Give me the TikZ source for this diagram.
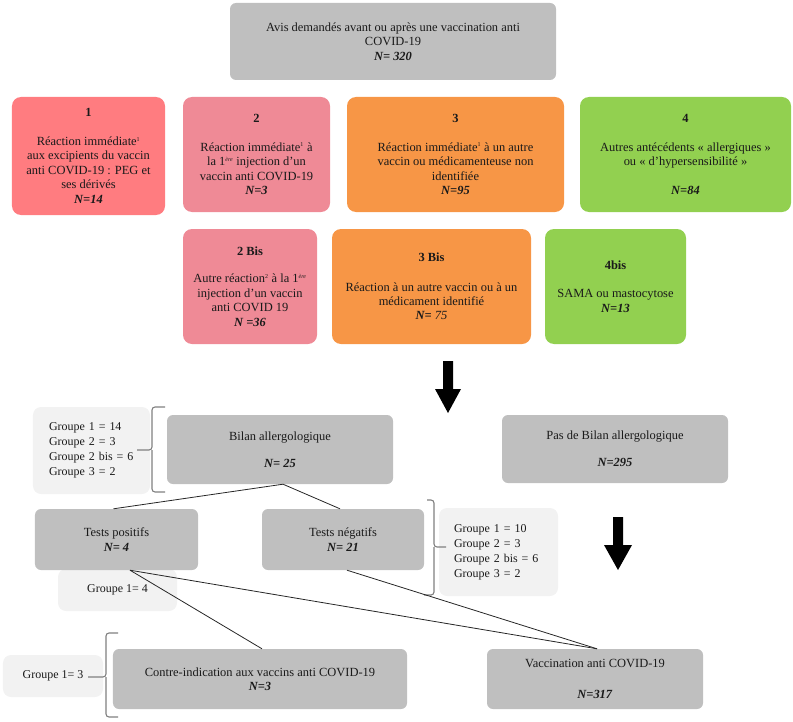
\documentclass[tikz,border=0pt]{standalone}
\usepackage{fontspec}
\setmainfont{Liberation Serif}
\definecolor{cred}{HTML}{FF7C80}
\definecolor{cpink}{HTML}{EF8A96}
\definecolor{corange}{HTML}{F79646}
\definecolor{cgreen}{HTML}{92D050}
\definecolor{cgray}{HTML}{BFBFBF}
\definecolor{clight}{HTML}{F2F2F2}
\definecolor{cbrace}{HTML}{7F7F7F}
\definecolor{ctext}{HTML}{1A1A1A}
\newcommand{\supx}[1]{\textsuperscript{\fontsize{6}{6}\selectfont #1}}
\newcommand{\Nb}[1]{\textbf{\textit{#1}}}
\begin{document}
\begin{tikzpicture}[x=1bp,y=-1bp,
  box/.style={rounded corners=9bp, inner sep=2bp, align=center, text=ctext,
    font=\fontsize{12.5}{14.5}\selectfont},
  gbox/.style={box, rounded corners=6bp, fill=cgray},
  lbox/.style={box, rounded corners=8bp, fill=clight, font=\fontsize{12}{15}\selectfont},
  bracepath/.style={draw=cbrace, line width=1.1bp, rounded corners=3bp},
  conn/.style={draw=black!85, line width=0.8bp},
  bigarrow/.style={fill=black}
]
\useasboundingbox (0,0) rectangle (793,722);

% top
\node[gbox, minimum width=326bp, minimum height=77bp] (top) at (393,41.5)
  {Avis demandés avant ou après une vaccination anti\\COVID-19\\\Nb{N= 320}};

% row 1
\node[box, fill=cred, minimum width=153bp, minimum height=118bp] (b1) at (88.5,156)
  {\textbf{1}\\[14bp]Réaction immédiate\supx{1}\\aux excipients du vaccin\\anti COVID-19 : PEG et\\ses dérivés\\\Nb{N=14}};
\node[box, fill=cpink, minimum width=147bp, minimum height=115bp] (b2) at (256.5,154.5)
  {\textbf{2}\\[14bp]Réaction immédiate\supx{1} à\\la 1\supx{\textit{ère}} injection d’un\\vaccin anti COVID-19\\\Nb{N=3}};
\node[box, fill=corange, minimum width=217bp, minimum height=115bp] (b3) at (455.5,154.5)
  {\textbf{3}\\[14bp]Réaction immédiate\supx{1} à un autre\\vaccin ou médicamenteuse non\\identifiée\\\Nb{N=95}};
\node[box, fill=cgreen, minimum width=211bp, minimum height=115bp] (b4) at (685.5,154.5)
  {\textbf{4}\\[14bp]Autres antécédents « allergiques »\\ou « d’hypersensibilité »\\[14bp]\Nb{N=84}};

% row 2
\node[box, fill=cpink, minimum width=134bp, minimum height=115bp] (b2b) at (250,286.5)
  {\textbf{2 Bis}\\[13bp]Autre réaction\supx{2} à la 1\supx{\textit{ère}}\\injection d’un vaccin\\anti COVID 19\\\Nb{N =36}};
\node[box, fill=corange, minimum width=199bp, minimum height=115bp] (b3b) at (431.5,286.5)
  {\textbf{3 Bis}\\[15bp]Réaction à un autre vaccin ou à un\\médicament identifié\\\Nb{N=} \textit{75}};
\node[box, fill=cgreen, minimum width=141bp, minimum height=115bp] (b4b) at (615.5,286.5)
  {\textbf{4bis}\\[14bp]SAMA ou mastocytose\\\Nb{N=13}};

% big arrows
\fill[bigarrow] (443,361) -- (453,361) -- (453,389) -- (461,389) -- (448,413) -- (435,389) -- (443,389) -- cycle;
\fill[bigarrow] (613,517) -- (623,517) -- (623,545) -- (632,545) -- (618,570) -- (604,545) -- (613,545) -- cycle;

% bilan row
\node[lbox, align=left, text width=85bp, inner xsep=16bp, minimum height=87bp] (gA) at (91.5,450.5)
  {Groupe 1 = 14\\Groupe 2 = 3\\Groupe 2 bis = 6\\Groupe 3 = 2};
\node[gbox, minimum width=226bp, minimum height=69bp] (bilan) at (280,449.5)
  {Bilan allergologique\\[13bp]\Nb{N= 25}};
\node[gbox, minimum width=226bp, minimum height=68bp] (pas) at (615,449)
  {Pas de Bilan allergologique\\[13bp]\Nb{N=295}};
\draw[bracepath] (165,407) -- (152,407) -- (152,450) -- (137,450);
\draw[bracepath] (152,450) -- (152,492) -- (165,492);

% tests row
\node[lbox, minimum width=119bp, minimum height=42bp] (g4) at (117.5,590) {Groupe 1= 4};
\node[gbox, font=\fontsize{12.5}{15.5}\selectfont, minimum width=163bp, minimum height=61bp] (tpos) at (116.5,539.5)
  {Tests positifs\\\Nb{N= 4}};
\node[gbox, font=\fontsize{12.5}{15.5}\selectfont, minimum width=162bp, minimum height=61bp] (tneg) at (343,539.5)
  {Tests négatifs\\\Nb{N= 21}};
\node[lbox, align=left, text width=89bp, inner xsep=15bp, minimum height=88bp] (gB) at (498.5,552)
  {Groupe 1 = 10\\Groupe 2 = 3\\Groupe 2 bis = 6\\Groupe 3 = 2};
\draw[bracepath] (427,500) -- (434,500) -- (434,547) -- (446,547);
\draw[bracepath] (434,547) -- (434,595) -- (424,595);

% bottom row
\node[lbox, minimum width=100bp, minimum height=42bp] (g3) at (53,676) {Groupe 1= 3};
\node[gbox, minimum width=294bp, minimum height=60bp] (contre) at (260,679)
  {Contre-indication aux vaccins anti COVID-19\\\Nb{N=3}};
\node[gbox, minimum width=216bp, minimum height=60bp] (vacc) at (595,679)
  {Vaccination anti COVID-19\\[16bp]\Nb{N=317}};
\draw[bracepath] (118,633) -- (106,633) -- (106,677) -- (88,677);
\draw[bracepath] (106,677) -- (106,717) -- (118,717);

% connectors
\draw[conn] ([xshift=3bp]bilan.south) -- ([xshift=-3bp]tpos.north);
\draw[conn] ([xshift=3bp]bilan.south) -- ([xshift=-3bp]tneg.north);
\draw[conn] ([xshift=13.5bp]tpos.south) -- ([xshift=2bp]contre.north);
\draw[conn] ([xshift=13.5bp]tpos.south) -- ([xshift=2bp]vacc.north);
\draw[conn] ([xshift=4bp]tneg.south) -- ([xshift=2bp]vacc.north);
\end{tikzpicture}
\end{document}
